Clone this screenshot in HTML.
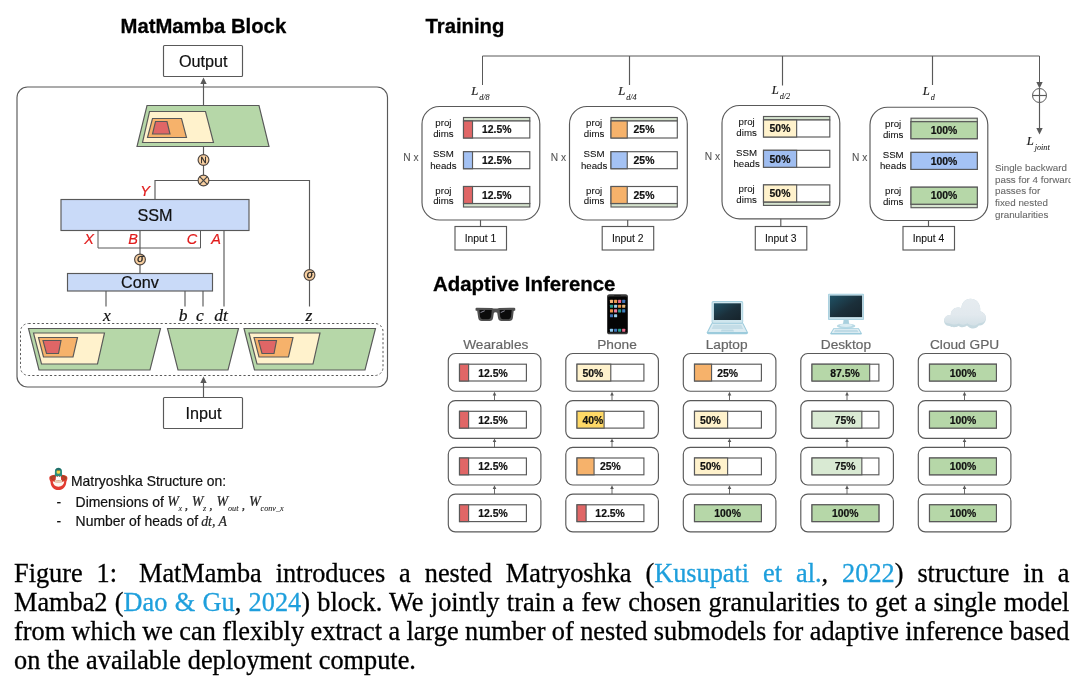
<!DOCTYPE html>
<html lang="en"><head><meta charset="utf-8"><title>MatMamba Figure 1</title>
<style>
html,body{margin:0;padding:0;background:#fff}
body{width:1090px;height:688px;position:relative;overflow:hidden}
svg{position:absolute;left:0;top:0;display:block;will-change:transform}
svg text{white-space:pre}
.cap{position:absolute;left:13.8px;height:30px;line-height:30px;font-family:"Liberation Serif",serif;font-size:26.3px;color:#000;white-space:nowrap;will-change:transform;-webkit-text-stroke:0.3px #000}
.cap .l{-webkit-text-stroke:0.3px #1e9fdc}
.l{color:#1e9fdc}
</style></head><body>
<svg width="1090" height="688" viewBox="0 0 1090 688">
<text x="120.5" y="33" font-family="&quot;Liberation Sans&quot;,sans-serif" font-size="20.3" font-weight="bold" font-style="normal" text-anchor="start" fill="#000" stroke="#000" stroke-width="0.3" >MatMamba Block</text>
<rect x="17" y="87" width="370.5" height="300" rx="10.5" fill="none" stroke="#595959" stroke-width="1.15" />
<line x1="203.5" y1="84" x2="203.5" y2="106" stroke="#595959" stroke-width="1.15"/>
<polygon points="203.5,77.5 200.3,84 206.7,84" fill="#595959"/>
<rect x="163.5" y="45.5" width="79" height="31" rx="1" fill="#fff" stroke="#595959" stroke-width="1.15" />
<text x="203.2" y="67.1" font-family="&quot;Liberation Sans&quot;,sans-serif" font-size="16.2" font-weight="normal" font-style="normal" text-anchor="middle" fill="#111" stroke="#111" stroke-width="0.2" >Output</text>
<polygon points="147,105.5 259,105.5 269,146.5 137,146.5" fill="#b6d7a8" stroke="#595959" stroke-width="1.15" stroke-linejoin="miter"/>
<polygon points="149.5,111.5 205.5,111.5 213.5,142.5 142.5,142.5" fill="#fff2cc" stroke="#595959" stroke-width="1.15" stroke-linejoin="miter"/>
<polygon points="152.5,118.5 181.5,118.5 186.5,137.5 147.5,137.5" fill="#f6b26b" stroke="#595959" stroke-width="1.15" stroke-linejoin="miter"/>
<polygon points="155.5,121.5 167,121.5 170,134 152.5,134" fill="#e06666" stroke="#595959" stroke-width="1.15" stroke-linejoin="miter"/>
<line x1="203.5" y1="146.5" x2="203.5" y2="180.5" stroke="#595959" stroke-width="1.15"/>
<line x1="155" y1="180.5" x2="309.5" y2="180.5" stroke="#595959" stroke-width="1.15"/>
<line x1="155" y1="180" x2="155" y2="199.5" stroke="#595959" stroke-width="1.15"/>
<line x1="309.5" y1="180" x2="309.5" y2="306.5" stroke="#595959" stroke-width="1.15"/>
<circle cx="203.5" cy="160" r="5.4" fill="#f8cfa0" stroke="#4d4540" stroke-width="1.15"/>
<text x="203.5" y="163" font-family="&quot;Liberation Sans&quot;,sans-serif" font-size="8.4" font-weight="normal" font-style="normal" text-anchor="middle" fill="#222" stroke="#222" stroke-width="0.3" >N</text>
<circle cx="203.5" cy="180.5" r="5.4" fill="#f8cfa0" stroke="#4d4540" stroke-width="1.15"/>
<line x1="199.7" y1="176.7" x2="207.3" y2="184.3" stroke="#444" stroke-width="1.2"/>
<line x1="199.7" y1="184.3" x2="207.3" y2="176.7" stroke="#444" stroke-width="1.2"/>
<text x="145" y="195.8" font-family="&quot;Liberation Sans&quot;,sans-serif" font-size="14.5" font-weight="normal" font-style="italic" text-anchor="middle" fill="#e01b1b" stroke="#e01b1b" stroke-width="0.2" >Y</text>
<rect x="61" y="199.5" width="188" height="31" rx="0" fill="#c9daf8" stroke="#595959" stroke-width="1.15" />
<text x="155" y="220.6" font-family="&quot;Liberation Sans&quot;,sans-serif" font-size="16.2" font-weight="normal" font-style="normal" text-anchor="middle" fill="#111" stroke="#111" stroke-width="0.2" >SSM</text>
<text x="89" y="243.6" font-family="&quot;Liberation Sans&quot;,sans-serif" font-size="14.5" font-weight="normal" font-style="italic" text-anchor="middle" fill="#e01b1b" stroke="#e01b1b" stroke-width="0.2" >X</text>
<text x="133" y="243.6" font-family="&quot;Liberation Sans&quot;,sans-serif" font-size="14.5" font-weight="normal" font-style="italic" text-anchor="middle" fill="#e01b1b" stroke="#e01b1b" stroke-width="0.2" >B</text>
<text x="192" y="243.6" font-family="&quot;Liberation Sans&quot;,sans-serif" font-size="14.5" font-weight="normal" font-style="italic" text-anchor="middle" fill="#e01b1b" stroke="#e01b1b" stroke-width="0.2" >C</text>
<text x="216" y="243.6" font-family="&quot;Liberation Sans&quot;,sans-serif" font-size="14.5" font-weight="normal" font-style="italic" text-anchor="middle" fill="#e01b1b" stroke="#e01b1b" stroke-width="0.2" >A</text>
<polyline points="98,230.5 98,248 200.5,248 200.5,230.5" fill="none" stroke="#595959" stroke-width="1"/>
<line x1="140" y1="230.5" x2="140" y2="273.5" stroke="#595959" stroke-width="1.15"/>
<circle cx="140" cy="259.5" r="5.4" fill="#f8cfa0" stroke="#4d4540" stroke-width="1.15"/>
<text x="140.4" y="262.2" font-family="&quot;Liberation Sans&quot;,sans-serif" font-size="10.5" font-weight="normal" font-style="italic" text-anchor="middle" fill="#222" stroke="#222" stroke-width="0.3" >σ</text>
<line x1="224" y1="230.5" x2="224" y2="306.5" stroke="#595959" stroke-width="1.15"/>
<rect x="67.5" y="273.5" width="145" height="17.5" rx="0" fill="#c9daf8" stroke="#595959" stroke-width="1.15" />
<text x="140" y="287.6" font-family="&quot;Liberation Sans&quot;,sans-serif" font-size="16.2" font-weight="normal" font-style="normal" text-anchor="middle" fill="#111" stroke="#111" stroke-width="0.2" >Conv</text>
<line x1="106" y1="291" x2="106" y2="306.5" stroke="#595959" stroke-width="1.15"/>
<line x1="185" y1="291" x2="185" y2="306.5" stroke="#595959" stroke-width="1.15"/>
<line x1="203" y1="291" x2="203" y2="306.5" stroke="#595959" stroke-width="1.15"/>
<circle cx="309.5" cy="275" r="5.4" fill="#f8cfa0" stroke="#4d4540" stroke-width="1.15"/>
<text x="309.9" y="277.7" font-family="&quot;Liberation Sans&quot;,sans-serif" font-size="10.5" font-weight="normal" font-style="italic" text-anchor="middle" fill="#222" stroke="#222" stroke-width="0.3" >σ</text>
<text x="107" y="320.5" font-family="&quot;Liberation Serif&quot;,serif" font-size="17.5" font-weight="normal" font-style="italic" text-anchor="middle" fill="#111" stroke="#111" stroke-width="0.2" >x</text>
<text x="183" y="320.5" font-family="&quot;Liberation Serif&quot;,serif" font-size="17.5" font-weight="normal" font-style="italic" text-anchor="middle" fill="#111" stroke="#111" stroke-width="0.2" >b</text>
<text x="200" y="320.5" font-family="&quot;Liberation Serif&quot;,serif" font-size="17.5" font-weight="normal" font-style="italic" text-anchor="middle" fill="#111" stroke="#111" stroke-width="0.2" >c</text>
<text x="221" y="320.5" font-family="&quot;Liberation Serif&quot;,serif" font-size="17.5" font-weight="normal" font-style="italic" text-anchor="middle" fill="#111" stroke="#111" stroke-width="0.2" >dt</text>
<text x="309" y="320.5" font-family="&quot;Liberation Serif&quot;,serif" font-size="17.5" font-weight="normal" font-style="italic" text-anchor="middle" fill="#111" stroke="#111" stroke-width="0.2" >z</text>
<rect x="20.5" y="323.5" width="362.5" height="52" rx="8" fill="none" stroke="#595959" stroke-width="1" stroke-dasharray="2.2 2.2"/>
<polygon points="28.5,328.5 160.5,328.5 150,370 39,370" fill="#b6d7a8" stroke="#595959" stroke-width="1.15" stroke-linejoin="miter"/>
<polygon points="33.5,333 104.5,333 97.5,364 41.5,364" fill="#fff2cc" stroke="#595959" stroke-width="1.15" stroke-linejoin="miter"/>
<polygon points="38.5,337.5 77.5,337.5 73,357 43.5,357" fill="#f6b26b" stroke="#595959" stroke-width="1.15" stroke-linejoin="miter"/>
<polygon points="43,340.5 61,340.5 58.5,353.5 46.5,353.5" fill="#e06666" stroke="#595959" stroke-width="1.15" stroke-linejoin="miter"/>
<polygon points="167.5,328.5 238.5,328.5 228,370 178,370" fill="#b6d7a8" stroke="#595959" stroke-width="1.15" stroke-linejoin="miter"/>
<polygon points="244,328.5 375.5,328.5 365,370 254.5,370" fill="#b6d7a8" stroke="#595959" stroke-width="1.15" stroke-linejoin="miter"/>
<polygon points="249,333 320,333 313,364 257,364" fill="#fff2cc" stroke="#595959" stroke-width="1.15" stroke-linejoin="miter"/>
<polygon points="254,337.5 293,337.5 288.5,357 259,357" fill="#f6b26b" stroke="#595959" stroke-width="1.15" stroke-linejoin="miter"/>
<polygon points="258.5,340.5 276.5,340.5 274,353.5 262,353.5" fill="#e06666" stroke="#595959" stroke-width="1.15" stroke-linejoin="miter"/>
<line x1="203.5" y1="383" x2="203.5" y2="397.5" stroke="#595959" stroke-width="1.15"/>
<polygon points="203.5,376.5 200.3,383 206.7,383" fill="#595959"/>
<rect x="163.5" y="397.5" width="79" height="31" rx="1" fill="#fff" stroke="#595959" stroke-width="1.15" />
<text x="203.4" y="419" font-family="&quot;Liberation Sans&quot;,sans-serif" font-size="16.2" font-weight="normal" font-style="normal" text-anchor="middle" fill="#111" stroke="#111" stroke-width="0.2" >Input</text>
<g transform="translate(49.1,467.7)">
<path d="M0.2,10.3 C0.2,7.7 4.2,6.9 9.3,6.9 C14.4,6.9 18.3,7.7 18.3,10.3 C18.3,12 17.5,13 17.2,14.2 C17,18.8 14,22.3 9.3,22.3 C4.6,22.3 1.6,18.8 1.4,14.2 C1.1,13 0.2,12 0.2,10.3 Z" fill="#e23b30"/>
<ellipse cx="9.3" cy="10.2" rx="8.3" ry="2.9" fill="#9c4a22"/>
<ellipse cx="9.3" cy="10.5" rx="6.6" ry="2.1" fill="#c7392c"/>
<path d="M5.8,9 L5.8,3.7 C5.8,1.2 7.4,0 9.3,0 C11.2,0 12.9,1.2 12.9,3.7 L12.9,9 L11.7,8 L10.5,9 L9.3,8 L8.1,9 L6.9,8 Z" fill="#2b8c7e"/>
<path d="M6.2,3.2 C6.4,1 7.8,0.2 9.3,0.2 C10.8,0.2 12.3,1 12.5,3.2 C11,1.8 7.6,1.8 6.2,3.2Z" fill="#1f6b68"/>
<circle cx="9.3" cy="4.2" r="1.9" fill="#f3d34a"/>
<path d="M7.4,3.6 C7.9,2.1 10.7,2.1 11.2,3.6 C10.3,3 8.3,3 7.4,3.6Z" fill="#3a3a22"/>
<path d="M6.9,8.4 L8.1,9.2 L9.3,8.3 L10.5,9.2 L11.7,8.4 L12.1,12.6 L6.5,12.6 Z" fill="#fff"/>
<path d="M5.8,12.3 C8,12.9 10.8,12.9 12.9,12.3 L13.1,14.6 C10.8,15.2 7.8,15.2 5.6,14.6 Z" fill="#e6cfb6"/>
<path d="M3.7,13.4 C6,15.6 12.6,15.6 15.1,13.4 C15,17 12.6,19 9.3,19 C6,19 3.9,17 3.7,13.4Z" fill="#fdf7f1"/>
<path d="M5.8,12.5 C8,13.1 10.8,13.1 12.9,12.5 L13.1,14.4 C10.8,15 7.8,15 5.6,14.4 Z" fill="#e6cfb6"/>
</g>
<text x="71" y="485.8" font-family="&quot;Liberation Sans&quot;,sans-serif" font-size="13.9" font-weight="normal" font-style="normal" text-anchor="start" fill="#111" stroke="#111" stroke-width="0.2" >Matryoshka Structure on:</text>
<text x="56.5" y="507" font-family="&quot;Liberation Sans&quot;,sans-serif" font-size="13.9" font-weight="normal" font-style="normal" text-anchor="start" fill="#111" stroke="#111" stroke-width="0.2" >-</text>
<text x="75.6" y="507" font-family="&quot;Liberation Sans&quot;,sans-serif" font-size="13.95" font-weight="normal" font-style="normal" text-anchor="start" fill="#111" stroke="#111" stroke-width="0.2" >Dimensions of</text>
<text x="56.5" y="525.6" font-family="&quot;Liberation Sans&quot;,sans-serif" font-size="13.9" font-weight="normal" font-style="normal" text-anchor="start" fill="#111" stroke="#111" stroke-width="0.2" >-</text>
<text x="75.6" y="525.6" font-family="&quot;Liberation Sans&quot;,sans-serif" font-size="13.95" font-weight="normal" font-style="normal" text-anchor="start" fill="#111" stroke="#111" stroke-width="0.2" >Number of heads of</text>
<text x="167.2" y="506" font-family="&quot;Liberation Serif&quot;,serif" font-size="14" font-weight="normal" font-style="italic" text-anchor="start" fill="#222" stroke="#222" stroke-width="0.2" >W</text>
<text x="178.6" y="511.3" font-family="&quot;Liberation Serif&quot;,serif" font-size="8.2" font-weight="normal" font-style="italic" text-anchor="start" fill="#222" stroke="#222" stroke-width="0.08" >x</text>
<text x="184.8" y="509" font-family="&quot;Liberation Serif&quot;,serif" font-size="13.2" font-weight="normal" font-style="italic" text-anchor="start" fill="#222" stroke="#222" stroke-width="0.2" >,</text>
<text x="191.7" y="506" font-family="&quot;Liberation Serif&quot;,serif" font-size="14" font-weight="normal" font-style="italic" text-anchor="start" fill="#222" stroke="#222" stroke-width="0.2" >W</text>
<text x="203.1" y="511.3" font-family="&quot;Liberation Serif&quot;,serif" font-size="8.2" font-weight="normal" font-style="italic" text-anchor="start" fill="#222" stroke="#222" stroke-width="0.08" >z</text>
<text x="209.2" y="509" font-family="&quot;Liberation Serif&quot;,serif" font-size="13.2" font-weight="normal" font-style="italic" text-anchor="start" fill="#222" stroke="#222" stroke-width="0.2" >,</text>
<text x="216.6" y="506" font-family="&quot;Liberation Serif&quot;,serif" font-size="14" font-weight="normal" font-style="italic" text-anchor="start" fill="#222" stroke="#222" stroke-width="0.2" >W</text>
<text x="228" y="511.3" font-family="&quot;Liberation Serif&quot;,serif" font-size="8.2" font-weight="normal" font-style="italic" text-anchor="start" fill="#222" stroke="#222" stroke-width="0.08" >out</text>
<text x="241.8" y="509" font-family="&quot;Liberation Serif&quot;,serif" font-size="13.2" font-weight="normal" font-style="italic" text-anchor="start" fill="#222" stroke="#222" stroke-width="0.2" >,</text>
<text x="249.1" y="506" font-family="&quot;Liberation Serif&quot;,serif" font-size="14" font-weight="normal" font-style="italic" text-anchor="start" fill="#222" stroke="#222" stroke-width="0.2" >W</text>
<text x="260.5" y="511.3" font-family="&quot;Liberation Serif&quot;,serif" font-size="8.2" font-weight="normal" font-style="italic" text-anchor="start" fill="#222" stroke="#222" stroke-width="0.08" >conv_x</text>
<text x="201.2" y="526" font-family="&quot;Liberation Serif&quot;,serif" font-size="13.8" font-weight="normal" font-style="italic" text-anchor="start" fill="#222" stroke="#222" stroke-width="0.2" >dt, A</text>
<text x="425.5" y="33" font-family="&quot;Liberation Sans&quot;,sans-serif" font-size="20.3" font-weight="bold" font-style="normal" text-anchor="start" fill="#000" stroke="#000" stroke-width="0.3" >Training</text>
<polyline points="482.5,85 482.5,56 1039.5,56 1039.5,83" fill="none" stroke="#595959" stroke-width="1"/>
<line x1="629.5" y1="56" x2="629.5" y2="85" stroke="#595959" stroke-width="1.15"/>
<line x1="782.5" y1="56" x2="782.5" y2="85.5" stroke="#595959" stroke-width="1.15"/>
<line x1="932.5" y1="56" x2="932.5" y2="85" stroke="#595959" stroke-width="1.15"/>
<polygon points="1039.5,88.5 1036.3,82 1042.7,82" fill="#595959"/>
<circle cx="1039.5" cy="95.5" r="7" fill="#fff" stroke="#595959" stroke-width="1"/>
<line x1="1032.5" y1="95.5" x2="1046.5" y2="95.5" stroke="#595959" stroke-width="1.15"/>
<line x1="1039.5" y1="88.5" x2="1039.5" y2="102.5" stroke="#595959" stroke-width="1.15"/>
<line x1="1039.5" y1="102.5" x2="1039.5" y2="129" stroke="#595959" stroke-width="1.15"/>
<polygon points="1039.5,134.5 1036.3,128 1042.7,128" fill="#595959"/>
<text x="471.3" y="94.5" font-family="&quot;Liberation Serif&quot;,serif" font-size="12.6" font-weight="normal" font-style="italic" text-anchor="start" fill="#222" stroke="#222" stroke-width="0.2" >L</text>
<text x="479.2" y="99.5" font-family="&quot;Liberation Serif&quot;,serif" font-size="8.2" font-weight="normal" font-style="italic" text-anchor="start" fill="#222" stroke="#222" stroke-width="0.08" >d/8</text>
<text x="618.3" y="94.5" font-family="&quot;Liberation Serif&quot;,serif" font-size="12.6" font-weight="normal" font-style="italic" text-anchor="start" fill="#222" stroke="#222" stroke-width="0.2" >L</text>
<text x="626.2" y="99.5" font-family="&quot;Liberation Serif&quot;,serif" font-size="8.2" font-weight="normal" font-style="italic" text-anchor="start" fill="#222" stroke="#222" stroke-width="0.08" >d/4</text>
<text x="771.8" y="94" font-family="&quot;Liberation Serif&quot;,serif" font-size="12.6" font-weight="normal" font-style="italic" text-anchor="start" fill="#222" stroke="#222" stroke-width="0.2" >L</text>
<text x="779.7" y="99" font-family="&quot;Liberation Serif&quot;,serif" font-size="8.2" font-weight="normal" font-style="italic" text-anchor="start" fill="#222" stroke="#222" stroke-width="0.08" >d/2</text>
<text x="922.8" y="94.5" font-family="&quot;Liberation Serif&quot;,serif" font-size="12.6" font-weight="normal" font-style="italic" text-anchor="start" fill="#222" stroke="#222" stroke-width="0.2" >L</text>
<text x="930.7" y="99.5" font-family="&quot;Liberation Serif&quot;,serif" font-size="8.2" font-weight="normal" font-style="italic" text-anchor="start" fill="#222" stroke="#222" stroke-width="0.08" >d</text>
<text x="1026.8" y="144.5" font-family="&quot;Liberation Serif&quot;,serif" font-size="12.6" font-weight="normal" font-style="italic" text-anchor="start" fill="#222" stroke="#222" stroke-width="0.2" >L</text>
<text x="1034.7" y="149.5" font-family="&quot;Liberation Serif&quot;,serif" font-size="8.2" font-weight="normal" font-style="italic" text-anchor="start" fill="#222" stroke="#222" stroke-width="0.08" >joint</text>
<text x="995" y="170.9" font-family="&quot;Liberation Sans&quot;,sans-serif" font-size="9.8" font-weight="normal" font-style="normal" text-anchor="start" fill="#666" stroke="#666" stroke-width="0.08" >Single backward</text>
<text x="995" y="182.6" font-family="&quot;Liberation Sans&quot;,sans-serif" font-size="9.8" font-weight="normal" font-style="normal" text-anchor="start" fill="#666" stroke="#666" stroke-width="0.08" >pass for 4 forward</text>
<text x="995" y="194.3" font-family="&quot;Liberation Sans&quot;,sans-serif" font-size="9.8" font-weight="normal" font-style="normal" text-anchor="start" fill="#666" stroke="#666" stroke-width="0.08" >passes for</text>
<text x="995" y="206" font-family="&quot;Liberation Sans&quot;,sans-serif" font-size="9.8" font-weight="normal" font-style="normal" text-anchor="start" fill="#666" stroke="#666" stroke-width="0.08" >fixed nested</text>
<text x="995" y="217.7" font-family="&quot;Liberation Sans&quot;,sans-serif" font-size="9.8" font-weight="normal" font-style="normal" text-anchor="start" fill="#666" stroke="#666" stroke-width="0.08" >granularities</text>
<rect x="1070.6" y="150" width="20" height="80" fill="#fff"/>
<rect x="422" y="106.5" width="117.8" height="113.5" rx="17.5" fill="#fff" stroke="#595959" stroke-width="1.15" />
<text x="403.3" y="160.8" font-family="&quot;Liberation Sans&quot;,sans-serif" font-size="10.2" font-weight="normal" font-style="normal" text-anchor="start" fill="#555" stroke="#555" stroke-width="0.08" >N x</text>
<rect x="463.5" y="117.5" width="66.3" height="3.5" rx="0" fill="#d6e4cf" stroke="#595959" stroke-width="1.15" />
<rect x="463.5" y="203.5" width="66.3" height="3.5" rx="0" fill="#d6e4cf" stroke="#595959" stroke-width="1.15" />
<rect x="463.5" y="121" width="66.3" height="17" rx="0" fill="#fff" stroke="#595959" stroke-width="1.15" />
<rect x="463.5" y="121" width="9.0168" height="17" rx="0" fill="#e06666" stroke="#595959" stroke-width="1.15" />
<text x="496.7" y="133.2" font-family="&quot;Liberation Sans&quot;,sans-serif" font-size="10.4" font-weight="bold" font-style="normal" text-anchor="middle" fill="#111" stroke="#111" stroke-width="0.2" >12.5%</text>
<rect x="463.5" y="151.7" width="66.3" height="17" rx="0" fill="#fff" stroke="#595959" stroke-width="1.15" />
<rect x="463.5" y="151.7" width="9.0168" height="17" rx="0" fill="#a4c2f4" stroke="#595959" stroke-width="1.15" />
<text x="496.7" y="163.9" font-family="&quot;Liberation Sans&quot;,sans-serif" font-size="10.4" font-weight="bold" font-style="normal" text-anchor="middle" fill="#111" stroke="#111" stroke-width="0.2" >12.5%</text>
<rect x="463.5" y="186.5" width="66.3" height="17" rx="0" fill="#fff" stroke="#595959" stroke-width="1.15" />
<rect x="463.5" y="186.5" width="9.0168" height="17" rx="0" fill="#e06666" stroke="#595959" stroke-width="1.15" />
<text x="496.7" y="198.7" font-family="&quot;Liberation Sans&quot;,sans-serif" font-size="10.4" font-weight="bold" font-style="normal" text-anchor="middle" fill="#111" stroke="#111" stroke-width="0.2" >12.5%</text>
<text x="443.4" y="126.3" font-family="&quot;Liberation Sans&quot;,sans-serif" font-size="9.7" font-weight="normal" font-style="normal" text-anchor="middle" fill="#111" stroke="#111" stroke-width="0.08" >proj</text>
<text x="443.4" y="137.1" font-family="&quot;Liberation Sans&quot;,sans-serif" font-size="9.7" font-weight="normal" font-style="normal" text-anchor="middle" fill="#111" stroke="#111" stroke-width="0.08" >dims</text>
<text x="443.4" y="157.1" font-family="&quot;Liberation Sans&quot;,sans-serif" font-size="9.7" font-weight="normal" font-style="normal" text-anchor="middle" fill="#111" stroke="#111" stroke-width="0.08" >SSM</text>
<text x="443.4" y="168.5" font-family="&quot;Liberation Sans&quot;,sans-serif" font-size="9.7" font-weight="normal" font-style="normal" text-anchor="middle" fill="#111" stroke="#111" stroke-width="0.08" >heads</text>
<text x="443.4" y="193.5" font-family="&quot;Liberation Sans&quot;,sans-serif" font-size="9.7" font-weight="normal" font-style="normal" text-anchor="middle" fill="#111" stroke="#111" stroke-width="0.08" >proj</text>
<text x="443.4" y="204.1" font-family="&quot;Liberation Sans&quot;,sans-serif" font-size="9.7" font-weight="normal" font-style="normal" text-anchor="middle" fill="#111" stroke="#111" stroke-width="0.08" >dims</text>
<line x1="480.5" y1="220" x2="480.5" y2="226.5" stroke="#595959" stroke-width="1.15"/>
<rect x="455" y="226.5" width="51.5" height="23.5" rx="0" fill="#fff" stroke="#595959" stroke-width="1.15" />
<text x="480.5" y="242.4" font-family="&quot;Liberation Sans&quot;,sans-serif" font-size="10.35" font-weight="normal" font-style="normal" text-anchor="middle" fill="#111" stroke="#111" stroke-width="0.08" >Input 1</text>
<rect x="569.5" y="106.5" width="117.8" height="113.5" rx="17.5" fill="#fff" stroke="#595959" stroke-width="1.15" />
<text x="550.8" y="160.8" font-family="&quot;Liberation Sans&quot;,sans-serif" font-size="10.2" font-weight="normal" font-style="normal" text-anchor="start" fill="#555" stroke="#555" stroke-width="0.08" >N x</text>
<rect x="611" y="117.5" width="66.3" height="3.5" rx="0" fill="#d6e4cf" stroke="#595959" stroke-width="1.15" />
<rect x="611" y="203.5" width="66.3" height="3.5" rx="0" fill="#d6e4cf" stroke="#595959" stroke-width="1.15" />
<rect x="611" y="121" width="66.3" height="17" rx="0" fill="#fff" stroke="#595959" stroke-width="1.15" />
<rect x="611" y="121" width="16.2435" height="17" rx="0" fill="#f6b26b" stroke="#595959" stroke-width="1.15" />
<text x="644" y="133.2" font-family="&quot;Liberation Sans&quot;,sans-serif" font-size="10.4" font-weight="bold" font-style="normal" text-anchor="middle" fill="#111" stroke="#111" stroke-width="0.2" >25%</text>
<rect x="611" y="151.7" width="66.3" height="17" rx="0" fill="#fff" stroke="#595959" stroke-width="1.15" />
<rect x="611" y="151.7" width="16.2435" height="17" rx="0" fill="#a4c2f4" stroke="#595959" stroke-width="1.15" />
<text x="644" y="163.9" font-family="&quot;Liberation Sans&quot;,sans-serif" font-size="10.4" font-weight="bold" font-style="normal" text-anchor="middle" fill="#111" stroke="#111" stroke-width="0.2" >25%</text>
<rect x="611" y="186.5" width="66.3" height="17" rx="0" fill="#fff" stroke="#595959" stroke-width="1.15" />
<rect x="611" y="186.5" width="16.2435" height="17" rx="0" fill="#f6b26b" stroke="#595959" stroke-width="1.15" />
<text x="644" y="198.7" font-family="&quot;Liberation Sans&quot;,sans-serif" font-size="10.4" font-weight="bold" font-style="normal" text-anchor="middle" fill="#111" stroke="#111" stroke-width="0.2" >25%</text>
<text x="594.1" y="126.3" font-family="&quot;Liberation Sans&quot;,sans-serif" font-size="9.7" font-weight="normal" font-style="normal" text-anchor="middle" fill="#111" stroke="#111" stroke-width="0.08" >proj</text>
<text x="594.1" y="137.1" font-family="&quot;Liberation Sans&quot;,sans-serif" font-size="9.7" font-weight="normal" font-style="normal" text-anchor="middle" fill="#111" stroke="#111" stroke-width="0.08" >dims</text>
<text x="594.1" y="157.1" font-family="&quot;Liberation Sans&quot;,sans-serif" font-size="9.7" font-weight="normal" font-style="normal" text-anchor="middle" fill="#111" stroke="#111" stroke-width="0.08" >SSM</text>
<text x="594.1" y="168.5" font-family="&quot;Liberation Sans&quot;,sans-serif" font-size="9.7" font-weight="normal" font-style="normal" text-anchor="middle" fill="#111" stroke="#111" stroke-width="0.08" >heads</text>
<text x="594.1" y="193.5" font-family="&quot;Liberation Sans&quot;,sans-serif" font-size="9.7" font-weight="normal" font-style="normal" text-anchor="middle" fill="#111" stroke="#111" stroke-width="0.08" >proj</text>
<text x="594.1" y="204.1" font-family="&quot;Liberation Sans&quot;,sans-serif" font-size="9.7" font-weight="normal" font-style="normal" text-anchor="middle" fill="#111" stroke="#111" stroke-width="0.08" >dims</text>
<line x1="627.7" y1="220" x2="627.7" y2="226.5" stroke="#595959" stroke-width="1.15"/>
<rect x="602.2" y="226.5" width="51.5" height="23.5" rx="0" fill="#fff" stroke="#595959" stroke-width="1.15" />
<text x="627.7" y="242.4" font-family="&quot;Liberation Sans&quot;,sans-serif" font-size="10.35" font-weight="normal" font-style="normal" text-anchor="middle" fill="#111" stroke="#111" stroke-width="0.08" >Input 2</text>
<rect x="722" y="105.5" width="117.8" height="113.3" rx="17.5" fill="#fff" stroke="#595959" stroke-width="1.15" />
<text x="704.7" y="160.3" font-family="&quot;Liberation Sans&quot;,sans-serif" font-size="10.2" font-weight="normal" font-style="normal" text-anchor="start" fill="#555" stroke="#555" stroke-width="0.08" >N x</text>
<rect x="763.5" y="116.5" width="66.3" height="3.5" rx="0" fill="#d6e4cf" stroke="#595959" stroke-width="1.15" />
<rect x="763.5" y="201.9" width="66.3" height="3.5" rx="0" fill="#d6e4cf" stroke="#595959" stroke-width="1.15" />
<rect x="763.5" y="120" width="66.3" height="17" rx="0" fill="#fff" stroke="#595959" stroke-width="1.15" />
<rect x="763.5" y="120" width="33.15" height="17" rx="0" fill="#fff2cc" stroke="#595959" stroke-width="1.15" />
<text x="780" y="132.2" font-family="&quot;Liberation Sans&quot;,sans-serif" font-size="10.4" font-weight="bold" font-style="normal" text-anchor="middle" fill="#111" stroke="#111" stroke-width="0.2" >50%</text>
<rect x="763.5" y="150.3" width="66.3" height="17" rx="0" fill="#fff" stroke="#595959" stroke-width="1.15" />
<rect x="763.5" y="150.3" width="33.15" height="17" rx="0" fill="#9fbdf0" stroke="#595959" stroke-width="1.15" />
<text x="780" y="162.5" font-family="&quot;Liberation Sans&quot;,sans-serif" font-size="10.4" font-weight="bold" font-style="normal" text-anchor="middle" fill="#111" stroke="#111" stroke-width="0.2" >50%</text>
<rect x="763.5" y="184.9" width="66.3" height="17" rx="0" fill="#fff" stroke="#595959" stroke-width="1.15" />
<rect x="763.5" y="184.9" width="33.15" height="17" rx="0" fill="#fff2cc" stroke="#595959" stroke-width="1.15" />
<text x="780" y="197.1" font-family="&quot;Liberation Sans&quot;,sans-serif" font-size="10.4" font-weight="bold" font-style="normal" text-anchor="middle" fill="#111" stroke="#111" stroke-width="0.2" >50%</text>
<text x="746.6" y="125.3" font-family="&quot;Liberation Sans&quot;,sans-serif" font-size="9.7" font-weight="normal" font-style="normal" text-anchor="middle" fill="#111" stroke="#111" stroke-width="0.08" >proj</text>
<text x="746.6" y="136.1" font-family="&quot;Liberation Sans&quot;,sans-serif" font-size="9.7" font-weight="normal" font-style="normal" text-anchor="middle" fill="#111" stroke="#111" stroke-width="0.08" >dims</text>
<text x="746.6" y="155.7" font-family="&quot;Liberation Sans&quot;,sans-serif" font-size="9.7" font-weight="normal" font-style="normal" text-anchor="middle" fill="#111" stroke="#111" stroke-width="0.08" >SSM</text>
<text x="746.6" y="167.1" font-family="&quot;Liberation Sans&quot;,sans-serif" font-size="9.7" font-weight="normal" font-style="normal" text-anchor="middle" fill="#111" stroke="#111" stroke-width="0.08" >heads</text>
<text x="746.6" y="191.9" font-family="&quot;Liberation Sans&quot;,sans-serif" font-size="9.7" font-weight="normal" font-style="normal" text-anchor="middle" fill="#111" stroke="#111" stroke-width="0.08" >proj</text>
<text x="746.6" y="202.5" font-family="&quot;Liberation Sans&quot;,sans-serif" font-size="9.7" font-weight="normal" font-style="normal" text-anchor="middle" fill="#111" stroke="#111" stroke-width="0.08" >dims</text>
<line x1="780.8" y1="218.8" x2="780.8" y2="226.5" stroke="#595959" stroke-width="1.15"/>
<rect x="755.3" y="226.5" width="51.5" height="23.5" rx="0" fill="#fff" stroke="#595959" stroke-width="1.15" />
<text x="780.8" y="242.4" font-family="&quot;Liberation Sans&quot;,sans-serif" font-size="10.35" font-weight="normal" font-style="normal" text-anchor="middle" fill="#111" stroke="#111" stroke-width="0.08" >Input 3</text>
<rect x="870" y="107.2" width="117.8" height="113.3" rx="17.5" fill="#fff" stroke="#595959" stroke-width="1.15" />
<text x="852" y="160.8" font-family="&quot;Liberation Sans&quot;,sans-serif" font-size="10.2" font-weight="normal" font-style="normal" text-anchor="start" fill="#555" stroke="#555" stroke-width="0.08" >N x</text>
<rect x="911" y="118.2" width="66.3" height="3.5" rx="0" fill="#d6e4cf" stroke="#595959" stroke-width="1.15" />
<rect x="911" y="204.2" width="66.3" height="3.5" rx="0" fill="#d6e4cf" stroke="#595959" stroke-width="1.15" />
<rect x="911" y="121.7" width="66.3" height="17" rx="0" fill="#fff" stroke="#595959" stroke-width="1.15" />
<rect x="911" y="121.7" width="66.3" height="17" rx="0" fill="#b6d7a8" stroke="#595959" stroke-width="1.15" />
<text x="944" y="133.9" font-family="&quot;Liberation Sans&quot;,sans-serif" font-size="10.4" font-weight="bold" font-style="normal" text-anchor="middle" fill="#111" stroke="#111" stroke-width="0.2" >100%</text>
<rect x="911" y="152.4" width="66.3" height="17" rx="0" fill="#fff" stroke="#595959" stroke-width="1.15" />
<rect x="911" y="152.4" width="66.3" height="17" rx="0" fill="#a4c2f4" stroke="#595959" stroke-width="1.15" />
<text x="944" y="164.6" font-family="&quot;Liberation Sans&quot;,sans-serif" font-size="10.4" font-weight="bold" font-style="normal" text-anchor="middle" fill="#111" stroke="#111" stroke-width="0.2" >100%</text>
<rect x="911" y="187.2" width="66.3" height="17" rx="0" fill="#fff" stroke="#595959" stroke-width="1.15" />
<rect x="911" y="187.2" width="66.3" height="17" rx="0" fill="#b6d7a8" stroke="#595959" stroke-width="1.15" />
<text x="944" y="199.4" font-family="&quot;Liberation Sans&quot;,sans-serif" font-size="10.4" font-weight="bold" font-style="normal" text-anchor="middle" fill="#111" stroke="#111" stroke-width="0.2" >100%</text>
<text x="893.2" y="127" font-family="&quot;Liberation Sans&quot;,sans-serif" font-size="9.7" font-weight="normal" font-style="normal" text-anchor="middle" fill="#111" stroke="#111" stroke-width="0.08" >proj</text>
<text x="893.2" y="137.8" font-family="&quot;Liberation Sans&quot;,sans-serif" font-size="9.7" font-weight="normal" font-style="normal" text-anchor="middle" fill="#111" stroke="#111" stroke-width="0.08" >dims</text>
<text x="893.2" y="157.8" font-family="&quot;Liberation Sans&quot;,sans-serif" font-size="9.7" font-weight="normal" font-style="normal" text-anchor="middle" fill="#111" stroke="#111" stroke-width="0.08" >SSM</text>
<text x="893.2" y="169.2" font-family="&quot;Liberation Sans&quot;,sans-serif" font-size="9.7" font-weight="normal" font-style="normal" text-anchor="middle" fill="#111" stroke="#111" stroke-width="0.08" >heads</text>
<text x="893.2" y="194.2" font-family="&quot;Liberation Sans&quot;,sans-serif" font-size="9.7" font-weight="normal" font-style="normal" text-anchor="middle" fill="#111" stroke="#111" stroke-width="0.08" >proj</text>
<text x="893.2" y="204.8" font-family="&quot;Liberation Sans&quot;,sans-serif" font-size="9.7" font-weight="normal" font-style="normal" text-anchor="middle" fill="#111" stroke="#111" stroke-width="0.08" >dims</text>
<line x1="928.5" y1="220.5" x2="928.5" y2="226.5" stroke="#595959" stroke-width="1.15"/>
<rect x="903" y="226.5" width="51.5" height="23.5" rx="0" fill="#fff" stroke="#595959" stroke-width="1.15" />
<text x="928.5" y="242.4" font-family="&quot;Liberation Sans&quot;,sans-serif" font-size="10.35" font-weight="normal" font-style="normal" text-anchor="middle" fill="#111" stroke="#111" stroke-width="0.08" >Input 4</text>
<text x="433" y="290.8" font-family="&quot;Liberation Sans&quot;,sans-serif" font-size="20.4" font-weight="bold" font-style="normal" text-anchor="start" fill="#000" stroke="#000" stroke-width="0.3" >Adaptive Inference</text>
<text x="495.75" y="348.8" font-family="&quot;Liberation Sans&quot;,sans-serif" font-size="13.7" font-weight="normal" font-style="normal" text-anchor="middle" fill="#666" stroke="#666" stroke-width="0.2" >Wearables</text>
<rect x="448.3" y="353.5" width="92.6" height="37.7" rx="7" fill="#fff" stroke="#595959" stroke-width="1.15" />
<rect x="459.5" y="364.2" width="66.9" height="16.8" rx="0" fill="#fff" stroke="#595959" stroke-width="1.15" />
<rect x="459.5" y="364.2" width="9.0984" height="16.8" rx="0" fill="#e06666" stroke="#595959" stroke-width="1.15" />
<text x="493" y="376.5" font-family="&quot;Liberation Sans&quot;,sans-serif" font-size="10.4" font-weight="bold" font-style="normal" text-anchor="middle" fill="#111" stroke="#111" stroke-width="0.2" >12.5%</text>
<rect x="448.3" y="400.6" width="92.6" height="37.7" rx="7" fill="#fff" stroke="#595959" stroke-width="1.15" />
<rect x="459.5" y="411.3" width="66.9" height="16.8" rx="0" fill="#fff" stroke="#595959" stroke-width="1.15" />
<rect x="459.5" y="411.3" width="9.0984" height="16.8" rx="0" fill="#e06666" stroke="#595959" stroke-width="1.15" />
<text x="493" y="423.6" font-family="&quot;Liberation Sans&quot;,sans-serif" font-size="10.4" font-weight="bold" font-style="normal" text-anchor="middle" fill="#111" stroke="#111" stroke-width="0.2" >12.5%</text>
<line x1="494.5" y1="400.6" x2="494.5" y2="394.6" stroke="#595959" stroke-width="0.9"/>
<polygon points="494.5,391.8 492.7,395.4 496.3,395.4" fill="#595959"/>
<rect x="448.3" y="447.3" width="92.6" height="37.7" rx="7" fill="#fff" stroke="#595959" stroke-width="1.15" />
<rect x="459.5" y="458" width="66.9" height="16.8" rx="0" fill="#fff" stroke="#595959" stroke-width="1.15" />
<rect x="459.5" y="458" width="9.0984" height="16.8" rx="0" fill="#e06666" stroke="#595959" stroke-width="1.15" />
<text x="493" y="470.3" font-family="&quot;Liberation Sans&quot;,sans-serif" font-size="10.4" font-weight="bold" font-style="normal" text-anchor="middle" fill="#111" stroke="#111" stroke-width="0.2" >12.5%</text>
<line x1="494.5" y1="447.3" x2="494.5" y2="441.3" stroke="#595959" stroke-width="0.9"/>
<polygon points="494.5,438.5 492.7,442.1 496.3,442.1" fill="#595959"/>
<rect x="448.3" y="494.1" width="92.6" height="37.7" rx="7" fill="#fff" stroke="#595959" stroke-width="1.15" />
<rect x="459.5" y="504.8" width="66.9" height="16.8" rx="0" fill="#fff" stroke="#595959" stroke-width="1.15" />
<rect x="459.5" y="504.8" width="9.0984" height="16.8" rx="0" fill="#e06666" stroke="#595959" stroke-width="1.15" />
<text x="493" y="517.1" font-family="&quot;Liberation Sans&quot;,sans-serif" font-size="10.4" font-weight="bold" font-style="normal" text-anchor="middle" fill="#111" stroke="#111" stroke-width="0.2" >12.5%</text>
<line x1="494.5" y1="494.1" x2="494.5" y2="488.1" stroke="#595959" stroke-width="0.9"/>
<polygon points="494.5,485.3 492.7,488.9 496.3,488.9" fill="#595959"/>
<text x="617" y="348.8" font-family="&quot;Liberation Sans&quot;,sans-serif" font-size="13.7" font-weight="normal" font-style="normal" text-anchor="middle" fill="#666" stroke="#666" stroke-width="0.2" >Phone</text>
<rect x="565.8" y="353.5" width="92.6" height="37.7" rx="7" fill="#fff" stroke="#595959" stroke-width="1.15" />
<rect x="577" y="364.2" width="66.9" height="16.8" rx="0" fill="#fff" stroke="#595959" stroke-width="1.15" />
<rect x="577" y="364.2" width="33.7845" height="16.8" rx="0" fill="#fff2cc" stroke="#595959" stroke-width="1.15" />
<text x="592.8" y="376.5" font-family="&quot;Liberation Sans&quot;,sans-serif" font-size="10.4" font-weight="bold" font-style="normal" text-anchor="middle" fill="#111" stroke="#111" stroke-width="0.2" >50%</text>
<rect x="565.8" y="400.6" width="92.6" height="37.7" rx="7" fill="#fff" stroke="#595959" stroke-width="1.15" />
<rect x="577" y="411.3" width="66.9" height="16.8" rx="0" fill="#fff" stroke="#595959" stroke-width="1.15" />
<rect x="577" y="411.3" width="27.0945" height="16.8" rx="0" fill="#ffd966" stroke="#595959" stroke-width="1.15" />
<text x="592.8" y="423.6" font-family="&quot;Liberation Sans&quot;,sans-serif" font-size="10.4" font-weight="bold" font-style="normal" text-anchor="middle" fill="#111" stroke="#111" stroke-width="0.2" >40%</text>
<line x1="612" y1="400.6" x2="612" y2="394.6" stroke="#595959" stroke-width="0.9"/>
<polygon points="612,391.8 610.2,395.4 613.8,395.4" fill="#595959"/>
<rect x="565.8" y="447.3" width="92.6" height="37.7" rx="7" fill="#fff" stroke="#595959" stroke-width="1.15" />
<rect x="577" y="458" width="66.9" height="16.8" rx="0" fill="#fff" stroke="#595959" stroke-width="1.15" />
<rect x="577" y="458" width="17.0595" height="16.8" rx="0" fill="#f6b26b" stroke="#595959" stroke-width="1.15" />
<text x="610.3" y="470.3" font-family="&quot;Liberation Sans&quot;,sans-serif" font-size="10.4" font-weight="bold" font-style="normal" text-anchor="middle" fill="#111" stroke="#111" stroke-width="0.2" >25%</text>
<line x1="612" y1="447.3" x2="612" y2="441.3" stroke="#595959" stroke-width="0.9"/>
<polygon points="612,438.5 610.2,442.1 613.8,442.1" fill="#595959"/>
<rect x="565.8" y="494.1" width="92.6" height="37.7" rx="7" fill="#fff" stroke="#595959" stroke-width="1.15" />
<rect x="577" y="504.8" width="66.9" height="16.8" rx="0" fill="#fff" stroke="#595959" stroke-width="1.15" />
<rect x="577" y="504.8" width="9.0984" height="16.8" rx="0" fill="#e06666" stroke="#595959" stroke-width="1.15" />
<text x="610.1" y="517.1" font-family="&quot;Liberation Sans&quot;,sans-serif" font-size="10.4" font-weight="bold" font-style="normal" text-anchor="middle" fill="#111" stroke="#111" stroke-width="0.2" >12.5%</text>
<line x1="612" y1="494.1" x2="612" y2="488.1" stroke="#595959" stroke-width="0.9"/>
<polygon points="612,485.3 610.2,488.9 613.8,488.9" fill="#595959"/>
<text x="726.6" y="348.8" font-family="&quot;Liberation Sans&quot;,sans-serif" font-size="13.7" font-weight="normal" font-style="normal" text-anchor="middle" fill="#666" stroke="#666" stroke-width="0.2" >Laptop</text>
<rect x="683.3" y="353.5" width="92.6" height="37.7" rx="7" fill="#fff" stroke="#595959" stroke-width="1.15" />
<rect x="694.5" y="364.2" width="66.9" height="16.8" rx="0" fill="#fff" stroke="#595959" stroke-width="1.15" />
<rect x="694.5" y="364.2" width="17.0595" height="16.8" rx="0" fill="#f6b26b" stroke="#595959" stroke-width="1.15" />
<text x="727.6" y="376.5" font-family="&quot;Liberation Sans&quot;,sans-serif" font-size="10.4" font-weight="bold" font-style="normal" text-anchor="middle" fill="#111" stroke="#111" stroke-width="0.2" >25%</text>
<rect x="683.3" y="400.6" width="92.6" height="37.7" rx="7" fill="#fff" stroke="#595959" stroke-width="1.15" />
<rect x="694.5" y="411.3" width="66.9" height="16.8" rx="0" fill="#fff" stroke="#595959" stroke-width="1.15" />
<rect x="694.5" y="411.3" width="33.1155" height="16.8" rx="0" fill="#fff2cc" stroke="#595959" stroke-width="1.15" />
<text x="710.4" y="423.6" font-family="&quot;Liberation Sans&quot;,sans-serif" font-size="10.4" font-weight="bold" font-style="normal" text-anchor="middle" fill="#111" stroke="#111" stroke-width="0.2" >50%</text>
<line x1="729.5" y1="400.6" x2="729.5" y2="394.6" stroke="#595959" stroke-width="0.9"/>
<polygon points="729.5,391.8 727.7,395.4 731.3,395.4" fill="#595959"/>
<rect x="683.3" y="447.3" width="92.6" height="37.7" rx="7" fill="#fff" stroke="#595959" stroke-width="1.15" />
<rect x="694.5" y="458" width="66.9" height="16.8" rx="0" fill="#fff" stroke="#595959" stroke-width="1.15" />
<rect x="694.5" y="458" width="33.1155" height="16.8" rx="0" fill="#fff2cc" stroke="#595959" stroke-width="1.15" />
<text x="710.4" y="470.3" font-family="&quot;Liberation Sans&quot;,sans-serif" font-size="10.4" font-weight="bold" font-style="normal" text-anchor="middle" fill="#111" stroke="#111" stroke-width="0.2" >50%</text>
<line x1="729.5" y1="447.3" x2="729.5" y2="441.3" stroke="#595959" stroke-width="0.9"/>
<polygon points="729.5,438.5 727.7,442.1 731.3,442.1" fill="#595959"/>
<rect x="683.3" y="494.1" width="92.6" height="37.7" rx="7" fill="#fff" stroke="#595959" stroke-width="1.15" />
<rect x="694.5" y="504.8" width="66.9" height="16.8" rx="0" fill="#fff" stroke="#595959" stroke-width="1.15" />
<rect x="694.5" y="504.8" width="66.9" height="16.8" rx="0" fill="#b6d7a8" stroke="#595959" stroke-width="1.15" />
<text x="727.6" y="517.1" font-family="&quot;Liberation Sans&quot;,sans-serif" font-size="10.4" font-weight="bold" font-style="normal" text-anchor="middle" fill="#111" stroke="#111" stroke-width="0.2" >100%</text>
<line x1="729.5" y1="494.1" x2="729.5" y2="488.1" stroke="#595959" stroke-width="0.9"/>
<polygon points="729.5,485.3 727.7,488.9 731.3,488.9" fill="#595959"/>
<text x="845.9" y="348.8" font-family="&quot;Liberation Sans&quot;,sans-serif" font-size="13.7" font-weight="normal" font-style="normal" text-anchor="middle" fill="#666" stroke="#666" stroke-width="0.2" >Desktop</text>
<rect x="800.8" y="353.5" width="92.6" height="37.7" rx="7" fill="#fff" stroke="#595959" stroke-width="1.15" />
<rect x="812" y="364.2" width="66.9" height="16.8" rx="0" fill="#fff" stroke="#595959" stroke-width="1.15" />
<rect x="812" y="364.2" width="57.6678" height="16.8" rx="0" fill="#b6d7a8" stroke="#595959" stroke-width="1.15" />
<text x="845" y="376.5" font-family="&quot;Liberation Sans&quot;,sans-serif" font-size="10.4" font-weight="bold" font-style="normal" text-anchor="middle" fill="#111" stroke="#111" stroke-width="0.2" >87.5%</text>
<rect x="800.8" y="400.6" width="92.6" height="37.7" rx="7" fill="#fff" stroke="#595959" stroke-width="1.15" />
<rect x="812" y="411.3" width="66.9" height="16.8" rx="0" fill="#fff" stroke="#595959" stroke-width="1.15" />
<rect x="812" y="411.3" width="49.8405" height="16.8" rx="0" fill="#d9ead3" stroke="#595959" stroke-width="1.15" />
<text x="845.2" y="423.6" font-family="&quot;Liberation Sans&quot;,sans-serif" font-size="10.4" font-weight="bold" font-style="normal" text-anchor="middle" fill="#111" stroke="#111" stroke-width="0.2" >75%</text>
<line x1="847" y1="400.6" x2="847" y2="394.6" stroke="#595959" stroke-width="0.9"/>
<polygon points="847,391.8 845.2,395.4 848.8,395.4" fill="#595959"/>
<rect x="800.8" y="447.3" width="92.6" height="37.7" rx="7" fill="#fff" stroke="#595959" stroke-width="1.15" />
<rect x="812" y="458" width="66.9" height="16.8" rx="0" fill="#fff" stroke="#595959" stroke-width="1.15" />
<rect x="812" y="458" width="49.8405" height="16.8" rx="0" fill="#d9ead3" stroke="#595959" stroke-width="1.15" />
<text x="845.2" y="470.3" font-family="&quot;Liberation Sans&quot;,sans-serif" font-size="10.4" font-weight="bold" font-style="normal" text-anchor="middle" fill="#111" stroke="#111" stroke-width="0.2" >75%</text>
<line x1="847" y1="447.3" x2="847" y2="441.3" stroke="#595959" stroke-width="0.9"/>
<polygon points="847,438.5 845.2,442.1 848.8,442.1" fill="#595959"/>
<rect x="800.8" y="494.1" width="92.6" height="37.7" rx="7" fill="#fff" stroke="#595959" stroke-width="1.15" />
<rect x="812" y="504.8" width="66.9" height="16.8" rx="0" fill="#fff" stroke="#595959" stroke-width="1.15" />
<rect x="812" y="504.8" width="66.9" height="16.8" rx="0" fill="#b6d7a8" stroke="#595959" stroke-width="1.15" />
<text x="845.2" y="517.1" font-family="&quot;Liberation Sans&quot;,sans-serif" font-size="10.4" font-weight="bold" font-style="normal" text-anchor="middle" fill="#111" stroke="#111" stroke-width="0.2" >100%</text>
<line x1="847" y1="494.1" x2="847" y2="488.1" stroke="#595959" stroke-width="0.9"/>
<polygon points="847,485.3 845.2,488.9 848.8,488.9" fill="#595959"/>
<text x="964.6" y="348.8" font-family="&quot;Liberation Sans&quot;,sans-serif" font-size="13.7" font-weight="normal" font-style="normal" text-anchor="middle" fill="#666" stroke="#666" stroke-width="0.2" >Cloud GPU</text>
<rect x="918.3" y="353.5" width="92.6" height="37.7" rx="7" fill="#fff" stroke="#595959" stroke-width="1.15" />
<rect x="929.5" y="364.2" width="66.9" height="16.8" rx="0" fill="#fff" stroke="#595959" stroke-width="1.15" />
<rect x="929.5" y="364.2" width="66.9" height="16.8" rx="0" fill="#b6d7a8" stroke="#595959" stroke-width="1.15" />
<text x="963" y="376.5" font-family="&quot;Liberation Sans&quot;,sans-serif" font-size="10.4" font-weight="bold" font-style="normal" text-anchor="middle" fill="#111" stroke="#111" stroke-width="0.2" >100%</text>
<rect x="918.3" y="400.6" width="92.6" height="37.7" rx="7" fill="#fff" stroke="#595959" stroke-width="1.15" />
<rect x="929.5" y="411.3" width="66.9" height="16.8" rx="0" fill="#fff" stroke="#595959" stroke-width="1.15" />
<rect x="929.5" y="411.3" width="66.9" height="16.8" rx="0" fill="#b6d7a8" stroke="#595959" stroke-width="1.15" />
<text x="963" y="423.6" font-family="&quot;Liberation Sans&quot;,sans-serif" font-size="10.4" font-weight="bold" font-style="normal" text-anchor="middle" fill="#111" stroke="#111" stroke-width="0.2" >100%</text>
<line x1="964.5" y1="400.6" x2="964.5" y2="394.6" stroke="#595959" stroke-width="0.9"/>
<polygon points="964.5,391.8 962.7,395.4 966.3,395.4" fill="#595959"/>
<rect x="918.3" y="447.3" width="92.6" height="37.7" rx="7" fill="#fff" stroke="#595959" stroke-width="1.15" />
<rect x="929.5" y="458" width="66.9" height="16.8" rx="0" fill="#fff" stroke="#595959" stroke-width="1.15" />
<rect x="929.5" y="458" width="66.9" height="16.8" rx="0" fill="#b6d7a8" stroke="#595959" stroke-width="1.15" />
<text x="963" y="470.3" font-family="&quot;Liberation Sans&quot;,sans-serif" font-size="10.4" font-weight="bold" font-style="normal" text-anchor="middle" fill="#111" stroke="#111" stroke-width="0.2" >100%</text>
<line x1="964.5" y1="447.3" x2="964.5" y2="441.3" stroke="#595959" stroke-width="0.9"/>
<polygon points="964.5,438.5 962.7,442.1 966.3,442.1" fill="#595959"/>
<rect x="918.3" y="494.1" width="92.6" height="37.7" rx="7" fill="#fff" stroke="#595959" stroke-width="1.15" />
<rect x="929.5" y="504.8" width="66.9" height="16.8" rx="0" fill="#fff" stroke="#595959" stroke-width="1.15" />
<rect x="929.5" y="504.8" width="66.9" height="16.8" rx="0" fill="#b6d7a8" stroke="#595959" stroke-width="1.15" />
<text x="963" y="517.1" font-family="&quot;Liberation Sans&quot;,sans-serif" font-size="10.4" font-weight="bold" font-style="normal" text-anchor="middle" fill="#111" stroke="#111" stroke-width="0.2" >100%</text>
<line x1="964.5" y1="494.1" x2="964.5" y2="488.1" stroke="#595959" stroke-width="0.9"/>
<polygon points="964.5,485.3 962.7,488.9 966.3,488.9" fill="#595959"/>
<g>
<path d="M475.5,308.7 Q475.5,307.7 476.7,307.7 L491.8,307.9 Q495.5,309.1 499.2,307.9 L514.1,307.7 Q515.3,307.7 515.3,308.7 L515.2,310.5 L513.7,311.1 L512.9,317.8 Q512.4,321 509.2,321 L501.6,321 Q498.5,321 498,317.8 L497.2,312.8 Q495.5,311.8 493.9,312.8 L493.1,317.8 Q492.6,321 489.5,321 L481.8,321 Q478.7,321 478.2,317.8 L477.2,311.1 L475.6,310.5 Z" fill="#505050"/>
<path d="M479.4,310 L491.8,310 L491.1,316.6 Q490.8,319.2 488.4,319.2 L482.7,319.2 Q480.3,319.2 480,316.6 Z" fill="#0b0b0b"/>
<path d="M499.6,310 L511.7,310 L511,316.6 Q510.7,319.2 508.3,319.2 L502.9,319.2 Q500.5,319.2 500.2,316.6 Z" fill="#0b0b0b"/>
<path d="M480.9,312.4 L484.4,310.9" stroke="#aab" stroke-width=".8" stroke-linecap="round"/>
<path d="M501.1,312.4 L504.4,310.9" stroke="#aab" stroke-width=".8" stroke-linecap="round"/>
</g>
<rect x="607" y="294.3" width="21" height="40" rx="2.6" fill="#3a3a3a"/>
<rect x="608" y="296.6" width="19" height="36" rx="1.2" fill="#050505"/>
<rect x="614" y="295.2" width="7" height="0.8" rx=".4" fill="#1a1a1a"/>
<rect x="609.95" y="299.85" width="3.1" height="3.1" rx=".5" fill="#f0b27a"/>
<rect x="614.05" y="299.85" width="3.1" height="3.1" rx=".5" fill="#e89a4f"/>
<rect x="618.05" y="299.85" width="3.1" height="3.1" rx=".5" fill="#e8688a"/>
<rect x="622.15" y="299.85" width="3.1" height="3.1" rx=".5" fill="#3f74b8"/>
<rect x="609.95" y="304.75" width="3.1" height="3.1" rx=".5" fill="#2a9d8f"/>
<rect x="614.05" y="304.75" width="3.1" height="3.1" rx=".5" fill="#9ad0ec"/>
<rect x="618.05" y="304.75" width="3.1" height="3.1" rx=".5" fill="#e8954a"/>
<rect x="622.15" y="304.75" width="3.1" height="3.1" rx=".5" fill="#e8b87a"/>
<rect x="609.95" y="309.35" width="3.1" height="3.1" rx=".5" fill="#e8954a"/>
<rect x="614.05" y="309.35" width="3.1" height="3.1" rx=".5" fill="#ee7fa5"/>
<rect x="618.05" y="309.35" width="3.1" height="3.1" rx=".5" fill="#2a9d8f"/>
<rect x="622.15" y="309.35" width="3.1" height="3.1" rx=".5" fill="#3f7fbf"/>
<rect x="609.95" y="314.15" width="3.1" height="3.1" rx=".5" fill="#3f74b8"/>
<rect x="614.05" y="314.15" width="3.1" height="3.1" rx=".5" fill="#9ad0ec"/>
<rect x="609.95" y="328.75" width="3.1" height="3.1" rx=".5" fill="#8cc8ee"/>
<rect x="614.05" y="328.75" width="3.1" height="3.1" rx=".5" fill="#3f74b8"/>
<rect x="618.05" y="328.75" width="3.1" height="3.1" rx=".5" fill="#2a9d8f"/>
<rect x="622.15" y="328.75" width="3.1" height="3.1" rx=".5" fill="#e8688a"/>
<defs>
<linearGradient id="scr" x1="0" y1="0" x2="1" y2="1"><stop offset="0" stop-color="#1f5266"/><stop offset=".55" stop-color="#1b2f3a"/><stop offset="1" stop-color="#16232b"/></linearGradient>
<linearGradient id="cld" x1="0" y1="0" x2="0" y2="1"><stop offset="0" stop-color="#e6ecf0"/><stop offset=".6" stop-color="#e2e9ee"/><stop offset="1" stop-color="#d3e0e6"/></linearGradient>
</defs>
<g>
<rect x="711.6" y="301.1" width="31.6" height="22.4" rx="1.6" fill="#a5cfde"/>
<rect x="712.4" y="301.9" width="30" height="20.8" rx="1.1" fill="#cfe6ee"/>
<rect x="713.9" y="303.3" width="27" height="16.7" fill="url(#scr)"/>
<path d="M711.4,323.2 L743.4,323.2 L747.9,332.2 Q748.2,334.3 746.4,334.3 L708.4,334.3 Q706.6,334.3 706.9,332.2 Z" fill="#9ccbdc"/>
<path d="M712.2,323.9 L742.6,323.9 L746.6,332 L708.2,332 Z" fill="#dcecf2"/>
<path d="M713.6,324.8 L741.2,324.8 L743.2,329 L711.6,329 Z" fill="#c4dde7"/>
<path d="M721.6,329.6 L733.2,329.6 L734,331.6 L720.8,331.6 Z" fill="#bcd9e4"/>
</g>
<g>
<rect x="828" y="293.8" width="36" height="26.2" rx="1" fill="#a5cfde"/>
<rect x="828.8" y="294.6" width="34.4" height="24.6" fill="#c8e2ec"/>
<rect x="829.9" y="295.6" width="32.2" height="21.5" fill="url(#scr)"/>
<path d="M843.6,320 L848.6,320 L849.4,325.2 L842.8,325.2 Z" fill="#a9d0de"/>
<ellipse cx="846.1" cy="326" rx="9.3" ry="2.5" fill="#b7d9e5"/>
<ellipse cx="846.1" cy="325.4" rx="6.4" ry="1.5" fill="#dcedf3"/>
<path d="M833.4,328.2 L858.8,328.2 L861.8,333.2 Q862,334.5 860.8,334.5 L831.4,334.5 Q830.2,334.5 830.4,333.2 Z" fill="#9ccbdc"/>
<path d="M834,328.9 L858.2,328.9 L860.6,333 L831.6,333 Z" fill="#e2eff4"/>
<path d="M835.2,329.7 L857.2,329.7 L858.6,332.2 L833.8,332.2 Z" fill="#bfdbe6"/>
</g>
<g>
<path d="M949.6,326 C945.6,326.2 943.6,322.8 944.2,319.8 C944.8,316.6 947.8,314.6 950.8,315 C950.6,310.6 954.4,307.2 958.6,307.6 C959.8,307.7 960.6,308 961.4,308.4 C961.6,302.4 965.6,298.8 970.4,298.8 C976.8,298.8 981,304.2 980.2,311.2 C984,312.2 986.4,315.4 985.8,319.4 C985.4,323 982.4,325.6 978.8,325.6 C977,328.2 973.4,329.4 970.4,328 C968.8,327.4 967.8,326.6 967,325.6 C964.8,327.6 961,327.8 958.6,326 C956,327.6 952,327.6 949.6,326 Z" fill="#c6d9e0"/>
<path d="M949.8,323.4 C945.8,323.6 943.8,321.6 944.2,319.2 C944.8,316.2 947.8,314.6 950.8,315 C950.6,310.6 954.4,307.2 958.6,307.6 C959.8,307.7 960.6,308 961.4,308.4 C961.6,302.4 965.6,298.8 970.4,298.8 C976.8,298.8 981,304.2 980.2,311.2 C984,312.2 986.4,315.4 985.8,318.6 C985.4,321.6 982.4,323.4 978.8,323.2 C976.6,325.4 973.4,326 970.6,325 C969.2,324.6 968,324 967.2,323.2 C964.8,325 961.2,325.2 958.8,323.6 C956,325 952.2,324.8 949.8,323.4 Z" fill="url(#cld)"/>
</g>
</svg>
<div class="cap" style="top:558.5px;word-spacing:7.370px">Figure 1:<span style="margin-left:8px"></span> MatMamba introduces a nested Matryoshka (<span class="l">Kusupati et al.</span>, <span class="l">2022</span>) structure in a</div>
<div class="cap" style="top:587.7px;word-spacing:0.761px">Mamba2 (<span class="l">Dao &amp; Gu</span>, <span class="l">2024</span>) block. We jointly train a few chosen granularities to get a single model</div>
<div class="cap" style="top:616.9px;word-spacing:-0.144px">from which we can flexibly extract a large number of nested submodels for adaptive inference based</div>
<div class="cap" style="top:646.1px;word-spacing:0.250px">on the available deployment compute.</div>
</body></html>
